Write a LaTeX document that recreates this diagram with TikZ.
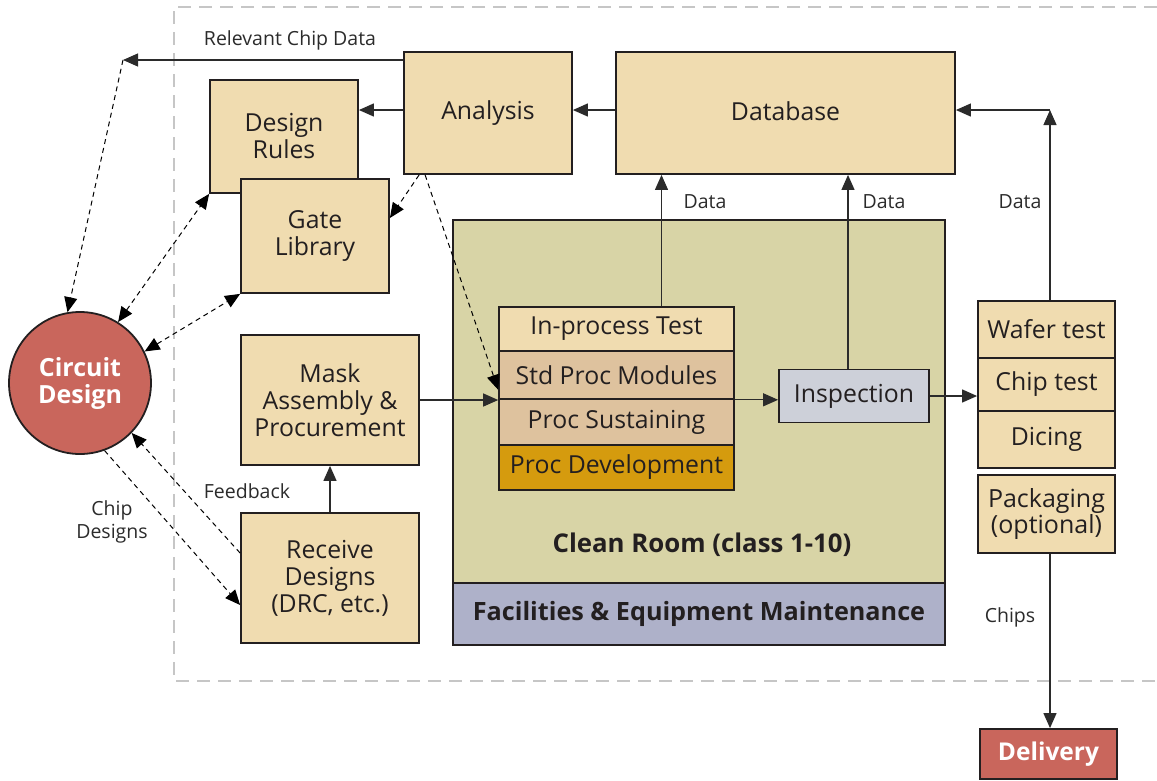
\documentclass[tikz,border=0pt]{standalone}
\usepackage{fontspec}
\setmainfont{Open Sans}
\usetikzlibrary{arrows.meta}

\definecolor{edge}{HTML}{231F20}
\definecolor{boxtan}{HTML}{F0DCB0}
\definecolor{proctan}{HTML}{DEC29E}
\definecolor{procgold}{HTML}{D59B0E}
\definecolor{roomgreen}{HTML}{D8D4A6}
\definecolor{facblue}{HTML}{AEB1C9}
\definecolor{inspgray}{HTML}{CDD0D9}
\definecolor{circred}{HTML}{C9665C}
\definecolor{linegray}{HTML}{2B2B2B}

\begin{document}
\begin{tikzpicture}[x=1pt, y=-1pt,
    box/.style={
        draw=edge,
        line width=1.8pt,
        fill=boxtan,
        align=center,
        inner sep=0pt,
        text=edge,
        font=\fontsize{24.8}{27}\selectfont},
    lbl/.style={
        font=\fontsize{19.5}{22}\selectfont,
        text=linegray,
        align=center},
    link/.style={
        draw=linegray,
        line width=1.2pt,
        -{Triangle[length=15pt,width=13pt]}},
    dlink/.style={
        draw=black,
        line width=1pt,
        dash pattern=on 5pt off 4pt,
        -{Triangle[length=15pt,width=13pt]}}]

    \useasboundingbox (0,0) rectangle (1157,780);

    \draw[gray!45, line width=2pt, dash pattern=on 13pt off 8pt]
        (1157,7) -- (174,7) -- (174,681) -- (1157,681);

    \node[box, fill=roomgreen, minimum width=492, minimum height=363] (room) at (699,401.5) {};
    \node[font=\fontsize{25.8}{28}\selectfont\bfseries, text=edge] (roomlbl) at (702,545) {Clean Room (class 1-10)};
    \node[box, fill=facblue, minimum width=492, minimum height=62,
        font=\fontsize{25.2}{28}\selectfont\bfseries] (fac) at (699,614) {Facilities \& Equipment Maintenance};

    \node[box, minimum width=148, minimum height=113] (drules) at (284,136.5) {Design\\Rules};
    \node[box, minimum width=148, minimum height=114] (glib) at (315,236) {Gate\\Library};
    \node[box, minimum width=168, minimum height=122] (analysis) at (488,113) {\raisebox{3pt}{Analysis}};
    \node[box, minimum width=339, minimum height=122] (db) at (785.5,113) {\raisebox{3pt}{Database}};
    \node[box, minimum width=178, minimum height=130] (mask) at (330,400) {Mask\\Assembly \&\\Procurement};
    \node[box, minimum width=178, minimum height=130] (recv) at (330,578) {Receive\\Designs\\(DRC, etc.)};

    \node[box, line width=1.6pt, minimum width=235, minimum height=44] (test) at (616.5,329) {In-process Test};
    \node[box, line width=1.6pt, fill=proctan, minimum width=235, minimum height=48] (stdp) at (616.5,375) {Std Proc Modules};
    \node[box, line width=1.6pt, fill=proctan, minimum width=235, minimum height=46] (sust) at (616.5,422) {Proc Sustaining};
    \node[box, line width=1.6pt, fill=procgold, minimum width=235, minimum height=45] (devp) at (616.5,467.5) {Proc Development};

    \node[box, fill=inspgray, minimum width=150, minimum height=53] (insp) at (854,396) {Inspection};

    \node[box, minimum width=137, minimum height=57] (wafer) at (1046.5,329.5) {Wafer test};
    \node[box, minimum width=137, minimum height=53] (chip) at (1046.5,384.5) {Chip test};
    \node[box, minimum width=137, minimum height=57] (dicing) at (1046.5,439.5) {Dicing};
    \node[box, minimum width=137, minimum height=78, font=\fontsize{25}{23}\selectfont] (pack) at (1046.5,514) {Packaging\\(optional)};
    \node[box, fill=circred, minimum width=137, minimum height=50, text=white,
        font=\fontsize{24.5}{27}\selectfont\bfseries] (deliv) at (1048.5,754) {Delivery};

    \node[box, circle, fill=circred, minimum size=142, text=white,
        font=\fontsize{25}{27}\selectfont\bfseries] (circ) at (80,383) {Circuit\\Design};

    \coordinate (rcd) at (123,60);
    \coordinate (wd) at (1050,110);

    \draw[link] (analysis.west |- rcd) -- (rcd);
    \draw[dlink] (rcd) -- (circ.100);
    \draw[link] ([yshift=3]db.west) -- ([yshift=3]analysis.east);
    \draw[link] ([yshift=3]analysis.west) -- ([yshift=3]analysis.west -| drules.east);
    \draw[dlink] ([xshift=16]analysis.south west) -- ([yshift=18]glib.east);
    \draw[dlink] ([xshift=22]analysis.south west) -- ([yshift=10]stdp.south west);
    \draw[dlink, <->, >={Triangle[length=15pt,width=13pt]}] (circ.58) -- (drules.south west);
    \draw[dlink, <->, >={Triangle[length=15pt,width=13pt]}] (circ.26) -- (glib.south west);
    \draw[dlink] ([yshift=25]recv.west) -- (circ.-44);
    \draw[dlink] (circ.-70) -- ([yshift=-27]recv.west);
    \draw[link] (recv.north) -- (mask.south);
    \draw[link] (mask.east) -- (mask.east -| stdp.west);
    \draw[link] (stdp.south east) -- (stdp.south east -| insp.west);
    \draw[link] ([xshift=45]test.north) -- ([xshift=45]test.north |- db.south);
    \draw[link] ([xshift=-6]insp.north) -- ([xshift=-6]insp.north |- db.south);
    \draw[link] (insp.east) -- (insp.east -| chip.west);
    \draw[link] (wafer.north -| wd) -- (wd);
    \draw[link] (wd) -- (wd -| db.east);
    \draw[link] (pack.south -| wd) -- (deliv.north -| wd);

    \node[lbl] (lrcd) at (290,40) {Relevant Chip Data};
    \node[lbl] (ldata1) at (705,202) {Data};
    \node[lbl] (ldata2) at (884,202) {Data};
    \node[lbl] (ldata3) at (1020,202) {Data};
    \node[lbl] (lchips) at (1010,617) {Chips};
    \node[lbl] (lfeed) at (247,491) {Feedback};
    \node[lbl, font=\fontsize{19.5}{23}\selectfont] (lchipd) at (112,522) {Chip\\Designs};
\end{tikzpicture}
\end{document}
